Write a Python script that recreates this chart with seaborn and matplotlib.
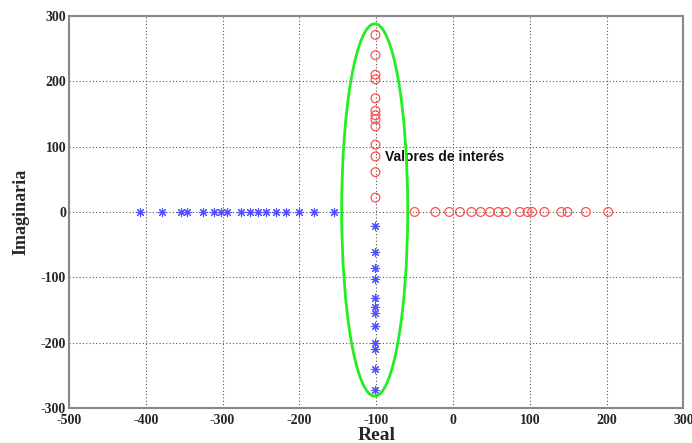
import numpy as np
import pandas as pd
import matplotlib
matplotlib.use("Agg")
import matplotlib.pyplot as plt
import seaborn as sns
from matplotlib.patches import Ellipse

# Blue poles (asterisks): on the real axis and on the lower vertical branch
blue_real_x = [-408, -379, -354, -347, -325, -311, -302, -294, -276, -264,
               -254, -243, -230, -217, -200, -181, -155]
blue_vert_y = [-22, -62, -86, -103, -131, -145, -154, -175, -201, -209, -241, -273]
# Red zeros (circles): on the real axis and on the upper vertical branch
red_real_x = [-50, -23, -5, 9, 24, 36, 48, 59, 69, 87, 97, 103, 119, 141, 149, 173, 202]
red_vert_y = [22, 61, 85, 103, 131, 142, 148, 155, 174, 203, 210, 240, 271]
branch_x = -101

x_ticks = [-500, -400, -300, -200, -100, 0, 100, 200, 300]
y_ticks = [-300, -200, -100, 0, 100, 200, 300]

blue = pd.DataFrame({
    "Real": blue_real_x + [branch_x] * len(blue_vert_y),
    "Imag": [0] * len(blue_real_x) + blue_vert_y,
})
red = pd.DataFrame({
    "Real": red_real_x + [branch_x] * len(red_vert_y),
    "Imag": [0] * len(red_real_x) + red_vert_y,
})

sns.set_style("white")
fig = plt.figure(figsize=(6.92, 4.43), dpi=100)
ax = fig.add_axes([0.0997, 0.079, 0.888, 0.885])

ax.grid(True, linestyle=(0, (1, 2)), color="#555555", linewidth=0.8)
ax.set_axisbelow(True)

sns.scatterplot(data=blue, x="Real", y="Imag", ax=ax, marker=(8, 2, 0),
                s=36, color="#5050ff", linewidth=0.8, zorder=3)
sns.scatterplot(data=red, x="Real", y="Imag", ax=ax, marker="o",
                s=40, facecolors="none", edgecolor="#ff5050", linewidth=0.9,
                zorder=3)

ell = Ellipse((-102, 3), width=86, height=570, fill=False,
              edgecolor="#22ee22", linewidth=2.0, zorder=4)
ax.add_patch(ell)

ax.text(-89, 84, "Valores de interés", fontsize=10, fontweight="bold",
        family="Liberation Sans", color="#111111", va="center", ha="left")

ax.set_xlim(-500, 300)
ax.set_ylim(-300, 300)
ax.set_xticks(x_ticks)
ax.set_yticks(y_ticks)
ax.set_xticklabels([str(t) for t in x_ticks], fontsize=10, fontweight="bold",
                   family="Liberation Serif")
ax.set_yticklabels([str(t) for t in y_ticks], fontsize=10, fontweight="bold",
                   family="Liberation Serif")
ax.tick_params(axis="x", length=0, pad=4)
ax.tick_params(axis="y", length=0, pad=2)
ax.set_xlabel("Real", fontsize=14, fontweight="bold", family="Liberation Serif",
              labelpad=0)
ax.set_ylabel("Imaginaria", fontsize=13, fontweight="bold",
              family="Liberation Serif", labelpad=8)
for sp in ax.spines.values():
    sp.set_color("#888888")
    sp.set_linewidth(1.5)

fig.savefig("out.png", dpi=100)
